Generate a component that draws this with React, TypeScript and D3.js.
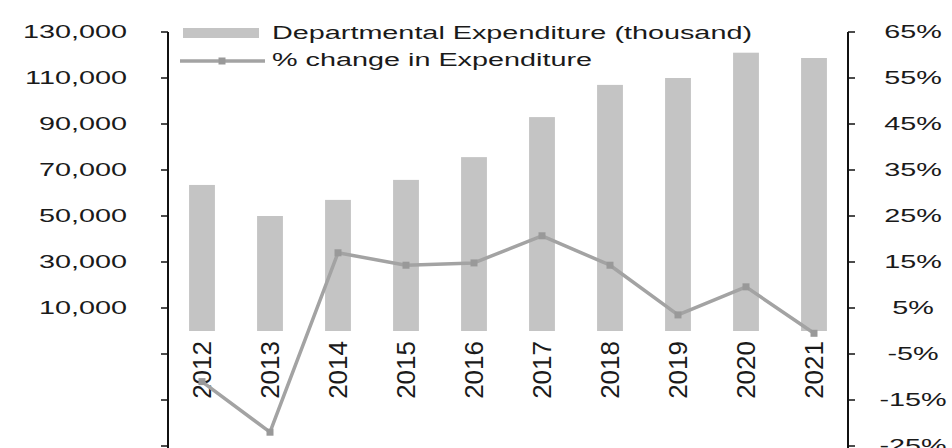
import React from 'react';
import * as d3 from 'd3';

// chart data
const years = ['2012', '2013', '2014', '2015', '2016', '2017', '2018', '2019', '2020', '2021'];
const expenditure = [63500, 50000, 57000, 65700, 75600, 93000, 107000, 110000, 121000, 118700];
const pctChange = [-11, -22, 17, 14.3, 14.8, 20.7, 14.3, 3.5, 9.6, -0.5];
const leftTicks = [-50000, -30000, -10000, 10000, 30000, 50000, 70000, 90000, 110000, 130000];
const rightTicks = [-25, -15, -5, 5, 15, 25, 35, 45, 55, 65];
const legendLabels = ['Departmental Expenditure (thousand)', '% change in Expenditure'];

const W = 952;
const H = 448;
const left = 168;
const right = 848;
const top = 32;
const bottom = 446;
const FONT = '"Liberation Sans", Arial, sans-serif';
const SX = 1.6; // horizontal stretch of the source text

const HText = ({ x, y, anchor, children, size = 18, weight = 400 }) => (
  <text
    transform={`translate(${x},${y}) scale(${SX},1)`}
    textAnchor={anchor}
    dominantBaseline="central"
    fontFamily={FONT}
    fontSize={size}
    fontWeight={weight}
    fill="#1a1a1a"
  >
    {children}
  </text>
);

const App = () => {
  const x = d3.scaleBand().domain(years).range([left, right]).paddingInner(0.62).paddingOuter(0.31);
  const yL = d3.scaleLinear().domain([-50000, 130000]).range([bottom, top]);
  const yR = d3.scaleLinear().domain([-25, 65]).range([bottom, top]);
  const fmt = d3.format(',');

  const line = d3
    .line<number>()
    .x((d, i) => x(years[i]) + x.bandwidth() / 2)
    .y((d) => yR(d));

  return (
    <svg width={W} height={H} style={{ position: 'absolute', left: 0, top: 0, background: '#fff' }}>
      {/* bars */}
      {expenditure.map((v, i) => (
        <rect
          key={years[i]}
          x={x(years[i])}
          y={yL(v)}
          width={x.bandwidth()}
          height={yL(0) - yL(v)}
          fill="#c4c4c4"
        />
      ))}

      {/* category labels */}
      {years.map((yr) => (
        <text
          key={yr}
          transform={`translate(${x(yr) + x.bandwidth() / 2},${yL(0) + 10}) rotate(-90)`}
          textAnchor="end"
          dominantBaseline="central"
          fontFamily={FONT}
          fontSize={26}
          fill="#1a1a1a"
        >
          {yr}
        </text>
      ))}

      {/* % change line */}
      <path d={line(pctChange)} fill="none" stroke="#a3a3a3" strokeWidth={3.5} strokeLinejoin="round" />
      {pctChange.map((v, i) => (
        <rect
          key={i}
          x={x(years[i]) + x.bandwidth() / 2 - 3.5}
          y={yR(v) - 3.5}
          width={7}
          height={7}
          fill="#999"
        />
      ))}

      {/* left axis */}
      <line x1={left} x2={left} y1={top} y2={H} stroke="#111" strokeWidth={2} />
      {leftTicks.map((t) => (
        <g key={t}>
          <line x1={left - 7} x2={left} y1={yL(t)} y2={yL(t)} stroke="#111" strokeWidth={1.5} />
          {t > 0 && <HText x={127} y={yL(t)} anchor="end">{fmt(t)}</HText>}
        </g>
      ))}

      {/* right axis */}
      <line x1={right} x2={right} y1={top} y2={H} stroke="#111" strokeWidth={2} />
      {rightTicks.map((t) => (
        <g key={t}>
          <line x1={right} x2={right + 7} y1={yR(t)} y2={yR(t)} stroke="#111" strokeWidth={1.5} />
          <HText x={913} y={yR(t)} anchor="middle">{`${t}%`}</HText>
        </g>
      ))}

      {/* legend */}
      <rect x={183} y={28} width={76} height={10} fill="#c4c4c4" />
      <HText x={272} y={33} anchor="start">{legendLabels[0]}</HText>
      <line x1={180} x2={265} y1={61} y2={61} stroke="#a3a3a3" strokeWidth={3.5} />
      <rect x={218.5} y={57.5} width={7} height={7} fill="#999" />
      <HText x={272} y={60} anchor="start">{legendLabels[1]}</HText>
    </svg>
  );
};

export default App;
